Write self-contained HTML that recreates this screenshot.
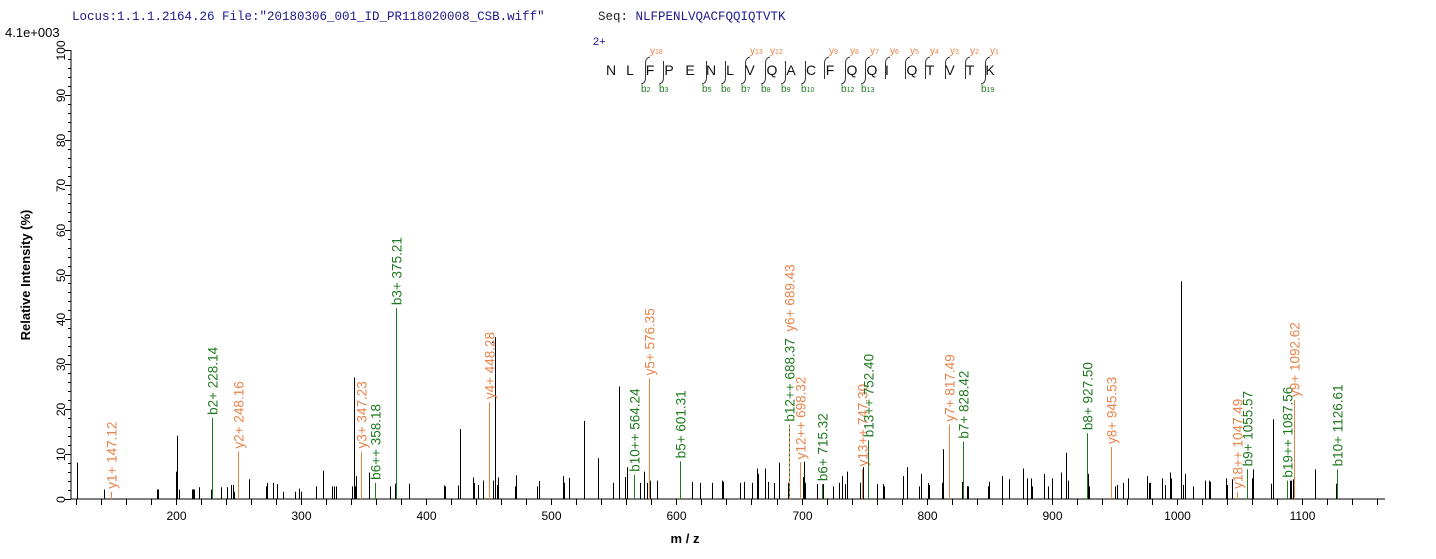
<!DOCTYPE html>
<html><head><meta charset="utf-8"><style>
body{margin:0;background:#fff;width:1436px;height:559px;overflow:hidden}
svg{display:block}
</style></head><body>
<svg id="s" width="1436" height="559" xmlns="http://www.w3.org/2000/svg" font-family="Liberation Sans, sans-serif">
<text x="72" y="20" font-family="Liberation Mono, monospace" font-size="12.5" fill="#1a1a8c">Locus:1.1.1.2164.26 File:"20180306_001_ID_PR118020008_CSB.wiff"</text>
<text x="598" y="20" font-family="Liberation Mono, monospace" font-size="12.5" fill="#222">Seq: <tspan fill="#1a1a8c">NLFPENLVQACFQQIQTVTK</tspan></text>
<text x="5" y="37" font-size="13" fill="#000">4.1e+003</text>
<text transform="translate(30,275) rotate(-90)" text-anchor="middle" font-size="13" font-weight="bold">Relative  Intensity (%)</text>
<text x="685" y="543" text-anchor="middle" font-size="13" font-weight="bold">m / z</text>
<text x="593" y="45" font-size="11" fill="#1a1aa0">2+</text>
<g id="g"></g>
</svg>
<script>
const NS="http://www.w3.org/2000/svg",g=document.getElementById('g');
function el(t,a,txt){const e=document.createElementNS(NS,t);for(const k in a)e.setAttribute(k,a[k]);if(txt!=null)e.textContent=txt;g.appendChild(e);return e;}
const Y0=498.5,S=4.48;const yy=p=>Y0-p*S;
const xm=m=>175.7+(m-200)*1.2517;
el('line',{x1:71,y1:50,x2:71,y2:499,stroke:'#000'});
el('line',{x1:71,y1:499,x2:1385,y2:499,stroke:'#000'});
for(let p=0;p<=100;p+=2){const y=Math.round(yy(p))+.5;el('line',{x1:p%10?68:65,y1:y,x2:71,y2:y,stroke:'#000'});
 if(p%10==0)el('text',{transform:`translate(65,${y}) rotate(-90)`,'text-anchor':'middle','font-size':12},p);}
for(let m=120;m<=1160;m+=20){const x=Math.round(xm(m))+.5;el('line',{x1:x,y1:499,x2:x,y2:505,stroke:'#000'});
 if(m%100==0)el('text',{x:x,y:520,'text-anchor':'middle','font-size':12},m);}
const P=[[77,8],[104,2],[157,2],[158,2],[177,14],[176,6],[179,2],[192,2],[193,2],[194,2],[199,2.5],[211,2],[211.5,13],[221,2.5],[227,2.5],[231,3],[233,3],[234,1.5],[249,4.3],[266,2.7],[267,3.5],[273,3.5],[277,3.2],[283,1.5],[295,1.5],[299,2.2],[301,1.5],[316,2.7],[323,6.2],[332,2.7],[334,2.7],[336,2.7],[352,2.7],[354,27],[355,2.7],[356,5],[369,5.8],[390,2.7],[395,3.3],[409,3.3],[444,2.9],[445,2.7],[458,2.9],[460,15.5],[473,4.7],[474,3.5],[478,3],[483,4],[493,4],[495,22],[497,3],[498,4.7],[515,2.7],[516,5.2],
[537,2.7],[539,3.9],[563,5],[564,3.5],[569,4.6],[584,17.3],[598,9],[613,3.5],[619,25],[625,4.8],[627,7],[640,3.5],[644,6],[647,3.5],[650,4],[657,4],[692,3.7],[700,3.5],[712,3.5],[722,4],[723,3.7],[740,3.5],[744,3.7],[752,3.5],[757,6.7],[758,5.5],[765,6.7],[768,3.7],[774,3.5],[779,8],[788,3.5],[803,4.8],[804,8.2],[805,3.5],[817,3.2],[823,3.2],[833,2.7],[839,3.5],[842,5],[845,3.2],[847,6],[860,3.5],[863,7],[877,3.2],[883,3.2],[884,2.7],[903,5],[907,7],[919,2.7],[921,5.5],[928,3.5],[929,3],[942,3.5],[943,11],[967,2.7],[968,2.7],[988,2.7],[989,3.7],
[962,3.7],[967,2.7],[1002,5],[1009,4.3],[1023,6.7],[1027,4.5],[1031,4.5],[1032,2.7],[1044,5.5],[1048,2.7],[1052,4.5],[1061,5.8],[1066,10.2],[1068,4],[1088,5.5],[1089,2.7],[1111,4.7],[1115,2.7],[1117,3],[1123,3.5],[1128,4.5],[1147,5],[1149,3.5],[1150,3.5],[1162,4.5],[1165,3],[1170,5.8],[1171,4.5],[1181,48.5],[1183,3],[1185,5.5],[1193,2.7],[1205,4],[1209,4],[1210,3.7],[1226,4.5],[1227,3],[1232,4.3],[1252,4.5],[1253,6.5],[1271,3.3],[1273,17.7],[1290,4],[1291,4],[1293,4.3],[1315,6.5],[1336,3.3],[1337,3.7]];
for(const[x,p]of P){const X=Math.round(x)+.5;el('line',{x1:X,y1:499,x2:X,y2:yy(p),stroke:'#000'});}
el('line',{x1:495.5,y1:yy(22),x2:495.5,y2:yy(36),stroke:'#000'});
el('line',{x1:492,y1:yy(35)+.5,x2:494,y2:yy(35)+.5,stroke:'#000'});
const O='#e8834a',G='#1e7a1e';
const A=[[111,1.5,O,'y1+ 147.12'],[212,18,G,'b2+ 228.14'],[238,10.5,O,'y2+ 248.16'],[361,10.5,O,'y3+ 347.23'],[375,3.5,G,'b6++ 358.18'],[396,42.5,G,'b3+ 375.21'],[489,21.5,O,'y4+ 448.28'],
[634,5.3,G,'b10++ 564.24'],[649,26.8,O,'y5+ 576.35'],[680,8.3,G,'b5+ 601.31'],[789,16.5,G,'b12++ 688.37'],[800,8.1,O,'y12++ 698.32'],[822,3.2,G,'b6+ 715.32'],[862,6.5,O,'y13++ 747.30'],[868,13,G,'b13++ 752.40'],[949,16.5,O,'y7+ 817.49'],[963,12.7,G,'b7+ 828.42'],
[1087,14.6,G,'b8+ 927.50'],[1111,11.5,O,'y8+ 945.53'],[1237,1.5,O,'y18++ 1047.49'],[1247,6.5,G,'b9+ 1055.57'],[1287,4,G,'b19++ 1087.56'],[1294,22,O,'y9+ 1092.62'],[1337,6.5,G,'b10+ 1126.61']];
for(const[x,p,c,t]of A){const X=Math.round(x)+.5;el('line',{x1:X,y1:499,x2:X,y2:yy(p),stroke:c});
 el('text',{transform:`translate(${X+5},${yy(p)-3}) rotate(-90)`,'font-size':13.5,fill:c},t);}
el('line',{x1:789.5,y1:499,x2:789.5,y2:yy(16.5),stroke:O,'stroke-dasharray':'3,2'});
el('text',{transform:`translate(794.5,${yy(16.5)-3-90}) rotate(-90)`,'font-size':13.5,fill:O},'y6+ 689.43');
const L='NLFPENLVQACFQQIQTVTK'.split(''),LX=[611,630,650,669,690,711,730,750,772,791,811,830,852,872,887,912,930,950,970,990];
L.forEach((c,i)=>el('text',{x:LX[i],y:75,'text-anchor':'middle','font-size':14,fill:'#111'},c));
const BR=[645,663,706,725,745,765,785,805,824,845,865,885,905,925,945,965,985];
const yl={645:'18',745:'13',765:'12',824:'9',845:'8',865:'7',885:'6',905:'5',925:'4',945:'3',965:'2',985:'1'};
const bl={645:'2',663:'3',706:'5',725:'6',745:'7',765:'8',785:'9',805:'10',845:'12',865:'13',985:'19'};
function sub(t,s){const ts=document.createElementNS(NS,'tspan');ts.textContent=s;ts.setAttribute('font-size','7');t.appendChild(ts);}
for(const x of BR){let d=`M${x+.5},61 L${x+.5},79`;
 if(yl[x]){d=`M${x+.5},79 L${x+.5},63 Q${x+.5},58 ${x+5},57`;const t=el('text',{x:x+5,y:54,'font-size':10,fill:O},'y');sub(t,yl[x]);}
 if(bl[x]){d=(yl[x]?`M${x+5},57 Q${x+.5},58 ${x+.5},63`:`M${x+.5},61`)+` L${x+.5},78 Q${x+.5},83 ${x-4},84`;const t=el('text',{x:x-4,y:92,'font-size':10,fill:G},'b');sub(t,bl[x]);}
 el('path',{d:d,fill:'none',stroke:'#333','stroke-width':1});}
</script>
</body></html>
